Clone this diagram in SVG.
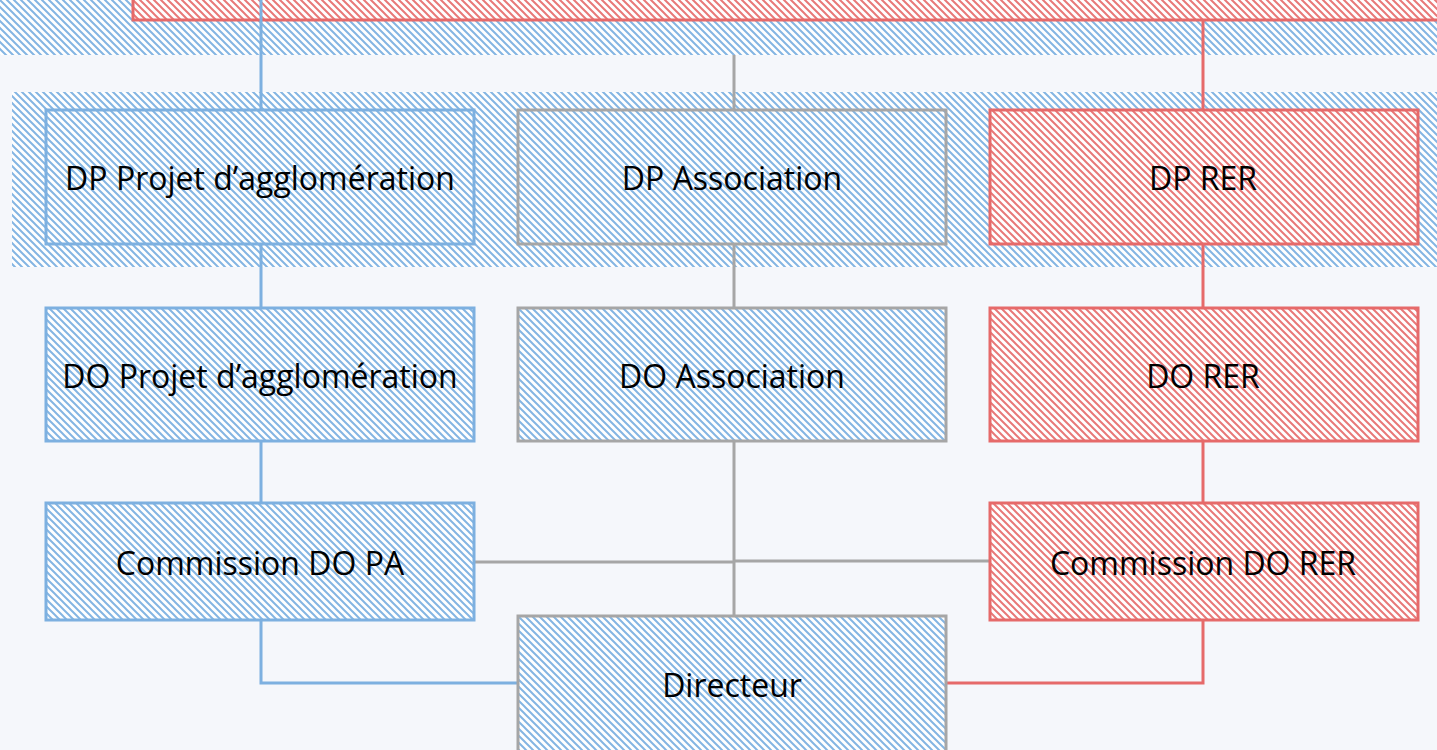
<svg xmlns="http://www.w3.org/2000/svg" width="1437" height="750" viewBox="0 0 1437 750">
<defs>
<pattern id="hb" width="7" height="7" patternUnits="userSpaceOnUse">
<rect width="7" height="7" fill="#ffffff"/>
<path d="M-1,-1 L8,8 M-1,6 L1,8 M6,-1 L8,1" stroke="#84b5e3" stroke-width="2"/>
</pattern>
<pattern id="hr" width="7" height="7" patternUnits="userSpaceOnUse">
<rect width="7" height="7" fill="#ffffff"/>
<path d="M-1,-1 L8,8 M-1,6 L1,8 M6,-1 L8,1" stroke="#e87878" stroke-width="2"/>
</pattern>
<style>
.t{font-family:"Open Sans","Liberation Sans",sans-serif;font-size:32px;fill:#000;text-anchor:middle}
.nb{fill:url(#hb);stroke:#7db0e0;stroke-width:3}
.ng{fill:url(#hb);stroke:#a6a6a6;stroke-width:3}
.nr{fill:url(#hr);stroke:#e66a6a;stroke-width:3}
.cb{stroke:#7db0e0;stroke-width:3;fill:none}
.cg{stroke:#a6a6a6;stroke-width:3;fill:none}
.cr{stroke:#e66a6a;stroke-width:3;fill:none}
</style>
</defs>
<rect width="1437" height="750" fill="#f5f7fb"/>
<g id="bands">
<rect x="0" y="0" width="1437" height="55" fill="url(#hb)"/>
<rect x="12" y="92" width="1425" height="175" fill="url(#hb)"/>
</g>
<g id="top-box"><rect class="nr" x="133" y="-10" width="1320" height="30"/></g>
<g id="connectors">
<path class="cb" d="M261,0 V110 M261,244 V308 M261,441 V503 M261,620 V683 H518"/>
<path class="cg" d="M734,55 V110 M734,244 V308 M734,441 V616 M474,562 H734 M734,561 H990"/>
<path class="cr" d="M1203,20 V110 M1203,244 V308 M1203,441 V503 M1203,620 V683 H946"/>
</g>
<g id="dp-pa"><rect class="nb" x="46" y="110" width="428" height="134"/><text class="t" x="260" y="190">DP Projet d’agglomération</text></g>
<g id="dp-asso"><rect class="ng" x="518" y="110" width="428" height="134"/><text class="t" x="732" y="190">DP Association</text></g>
<g id="dp-rer"><rect class="nr" x="990" y="110" width="428" height="134"/><text class="t" x="1203" y="190">DP RER</text></g>
<g id="do-pa"><rect class="nb" x="46" y="308" width="428" height="133"/><text class="t" x="260" y="388">DO Projet d’agglomération</text></g>
<g id="do-asso"><rect class="ng" x="518" y="308" width="428" height="133"/><text class="t" x="732" y="388">DO Association</text></g>
<g id="do-rer"><rect class="nr" x="990" y="308" width="428" height="133"/><text class="t" x="1203" y="388">DO RER</text></g>
<g id="com-pa"><rect class="nb" x="46" y="503" width="428" height="117"/><text class="t" x="260" y="575">Commission DO PA</text></g>
<g id="com-rer"><rect class="nr" x="990" y="503" width="428" height="117"/><text class="t" x="1203" y="575">Commission DO RER</text></g>
<g id="directeur"><rect class="ng" x="518" y="616" width="428" height="150"/><text class="t" x="732" y="697">Directeur</text></g>
</svg>
